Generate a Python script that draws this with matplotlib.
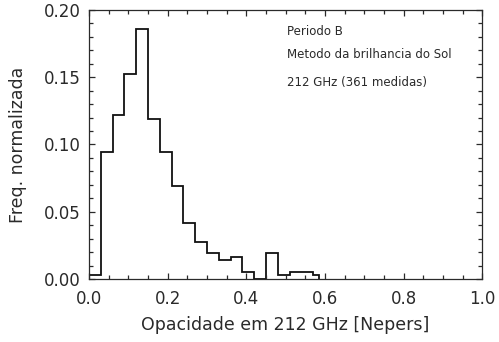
import matplotlib
matplotlib.use("Agg")
import matplotlib.pyplot as plt
from matplotlib.ticker import MultipleLocator, FormatStrFormatter

# bin edges (last bin drawn as half width, IDL psym=10 style)
edges = [0.00, 0.03, 0.06, 0.09, 0.12, 0.15, 0.18, 0.21, 0.24, 0.27, 0.30,
         0.33, 0.36, 0.39, 0.42, 0.45, 0.48, 0.51, 0.54, 0.57, 0.585]
counts = [1, 34, 44, 55, 67, 43, 34, 25, 15, 10, 7,
          5, 6, 2, 0, 7, 1, 2, 2, 1]
n_total = 361
freq = [c / n_total for c in counts]

info_lines = ["Periodo B", "Metodo da brilhancia do Sol", "212 GHz (361 medidas)"]
info_y = [0.184, 0.167, 0.146]

fg = "#2a2a2a"
plt.rcParams['font.family'] = 'DejaVu Sans'

fig = plt.figure(figsize=(4.99, 3.42), dpi=100)
ax = fig.add_axes([0.1784, 0.1842, 0.9665 - 0.1784, 0.9708 - 0.1842])

ax.stairs(freq, edges, baseline=0, color="#111111", lw=1.3)

ax.set_xlim(0, 1.0)
ax.set_ylim(0, 0.20)
ax.xaxis.set_major_locator(MultipleLocator(0.2))
ax.xaxis.set_minor_locator(MultipleLocator(0.05))
ax.yaxis.set_major_locator(MultipleLocator(0.05))
ax.yaxis.set_minor_locator(MultipleLocator(0.01))
ax.xaxis.set_major_formatter(FormatStrFormatter('%.1f'))
ax.yaxis.set_major_formatter(FormatStrFormatter('%.2f'))

ax.tick_params(which='both', direction='in', top=True, right=True,
               colors=fg, width=0.9)
ax.tick_params(which='major', length=4.5, labelsize=12)
ax.tick_params(axis='x', which='major', pad=8)
ax.tick_params(axis='y', which='major', pad=6)
ax.tick_params(which='minor', length=2.8)
for s in ax.spines.values():
    s.set_color(fg)
    s.set_linewidth(0.9)

ax.set_xlabel("Opacidade em 212 GHz [Nepers]", fontsize=12.5, color=fg, labelpad=6)
ax.set_ylabel("Freq. normalizada", fontsize=12.5, color=fg, labelpad=12)

for txt, yy in zip(info_lines, info_y):
    ax.text(0.503, yy, txt, fontsize=8.5, color=fg, va='center', ha='left')

fig.savefig("out.png", dpi=100)
